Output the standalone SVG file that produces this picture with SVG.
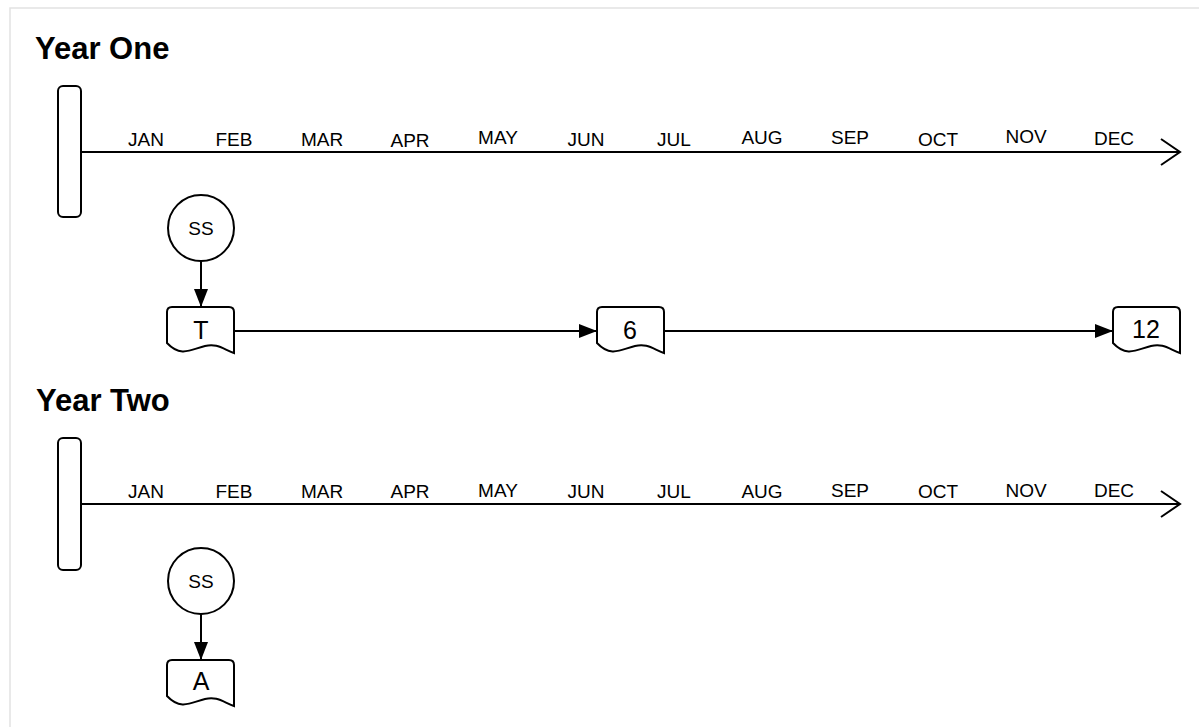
<svg xmlns="http://www.w3.org/2000/svg" xmlns:xlink="http://www.w3.org/1999/xlink" width="1199" height="727" viewBox="0 0 1199 727">
  <style>
    .title { font-family: "Liberation Sans", Arial, sans-serif; font-weight: bold; font-size: 31px; fill: #000; }
    .month { font-family: "Liberation Sans", Arial, sans-serif; font-size: 19px; fill: #000; text-anchor: middle; }
    .label { font-family: "Liberation Sans", Arial, sans-serif; font-size: 19px; fill: #000; text-anchor: middle; }
    .doclabel { font-family: "Liberation Sans", Arial, sans-serif; font-size: 25px; fill: #000; text-anchor: middle; }
    .shape { fill: #fff; stroke: #000; stroke-width: 2; }
    .line { fill: none; stroke: #000; stroke-width: 2; }
  </style>
  <defs>
    <marker id="filled" markerUnits="userSpaceOnUse" markerWidth="18" markerHeight="14" refX="18" refY="7" orient="auto">
      <path d="M0,0 L18,7 L0,14 Z" fill="#000"/>
    </marker>
    <marker id="open" markerUnits="userSpaceOnUse" markerWidth="24" markerHeight="30" refX="21" refY="15" orient="auto">
      <path d="M2,2 L21,15 L2,28" fill="none" stroke="#000" stroke-width="2"/>
    </marker>
    <path id="doc" d="M0,5 Q0,0 5,0 H62 Q67,0 67,5 V46 C56,42 50,36 38,39 C25,42 14,51 0,36 Z"/>
  </defs>

  <rect x="0" y="0" width="1199" height="727" fill="#fff"/>
  <rect x="10" y="8" width="1200" height="730" fill="#fff" stroke="#e2e2e2" stroke-width="1.5"/>

  <g id="connectors">
    <line class="line" x1="81" y1="152" x2="1180" y2="152" marker-end="url(#open)"/>
    <line class="line" x1="81" y1="504" x2="1180" y2="504" marker-end="url(#open)"/>
    <line class="line" x1="201" y1="261" x2="201" y2="307" marker-end="url(#filled)"/>
    <line class="line" x1="234" y1="331" x2="597" y2="331" marker-end="url(#filled)"/>
    <line class="line" x1="664" y1="331" x2="1113" y2="331" marker-end="url(#filled)"/>
    <line class="line" x1="201" y1="614" x2="201" y2="660" marker-end="url(#filled)"/>
  </g>

  <g id="year-one-title"><text class="title" x="35" y="59">Year One</text></g>
  <g id="year-one-bar"><rect class="shape" x="58" y="86" width="23" height="131" rx="5"/></g>
  <g id="year-one-months">
    <text class="month" x="146" y="146">JAN</text>
    <text class="month" x="234" y="146">FEB</text>
    <text class="month" x="322" y="146">MAR</text>
    <text class="month" x="410" y="147">APR</text>
    <text class="month" x="498" y="144">MAY</text>
    <text class="month" x="586" y="146">JUN</text>
    <text class="month" x="674" y="146">JUL</text>
    <text class="month" x="762" y="144">AUG</text>
    <text class="month" x="850" y="144">SEP</text>
    <text class="month" x="938" y="146">OCT</text>
    <text class="month" x="1026" y="143">NOV</text>
    <text class="month" x="1114" y="145">DEC</text>
  </g>
  <g id="year-one-ss">
    <circle class="shape" cx="201" cy="228" r="33"/>
    <text class="label" x="201" y="235">SS</text>
  </g>
  <g id="doc-t">
    <use xlink:href="#doc" class="shape" transform="translate(167,307)"/>
    <text class="doclabel" x="201" y="339">T</text>
  </g>
  <g id="doc-6">
    <use xlink:href="#doc" class="shape" transform="translate(597,307)"/>
    <text class="doclabel" x="630" y="339">6</text>
  </g>
  <g id="doc-12">
    <use xlink:href="#doc" class="shape" transform="translate(1113,307)"/>
    <text class="doclabel" x="1146" y="338">12</text>
  </g>

  <g id="year-two-title"><text class="title" x="36" y="411">Year Two</text></g>
  <g id="year-two-bar"><rect class="shape" x="58" y="438" width="23" height="132" rx="5"/></g>
  <g id="year-two-months">
    <text class="month" x="146" y="498">JAN</text>
    <text class="month" x="234" y="498">FEB</text>
    <text class="month" x="322" y="498">MAR</text>
    <text class="month" x="410" y="498">APR</text>
    <text class="month" x="498" y="497">MAY</text>
    <text class="month" x="586" y="498">JUN</text>
    <text class="month" x="674" y="498">JUL</text>
    <text class="month" x="762" y="498">AUG</text>
    <text class="month" x="850" y="497">SEP</text>
    <text class="month" x="938" y="498">OCT</text>
    <text class="month" x="1026" y="497">NOV</text>
    <text class="month" x="1114" y="497">DEC</text>
  </g>
  <g id="year-two-ss">
    <circle class="shape" cx="201" cy="581" r="33"/>
    <text class="label" x="201" y="588">SS</text>
  </g>
  <g id="doc-a">
    <use xlink:href="#doc" class="shape" transform="translate(167,660)"/>
    <text class="doclabel" x="201" y="690">A</text>
  </g>
</svg>
